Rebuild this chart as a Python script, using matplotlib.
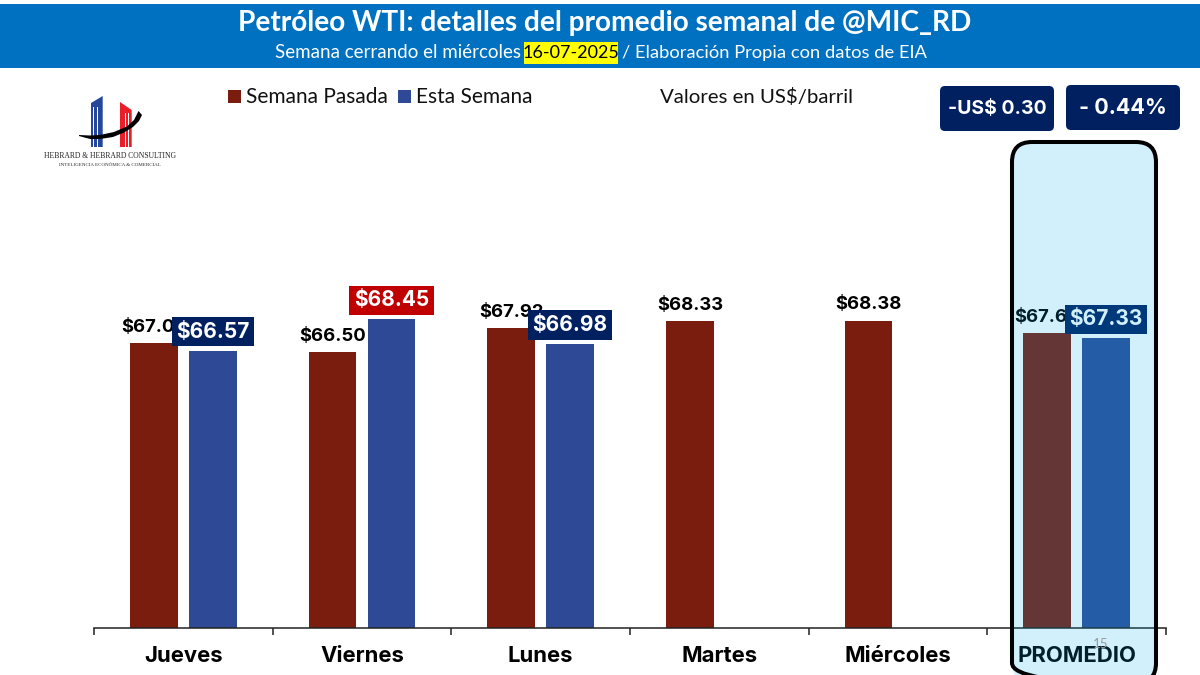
import matplotlib
matplotlib.use('Agg')
import matplotlib.pyplot as plt
from matplotlib.patches import FancyBboxPatch, Polygon, Rectangle
import numpy as np

# data
dias = ['Jueves', 'Viernes', 'Lunes', 'Martes', 'Miércoles', 'PROMEDIO']
semana_pasada = [67.02, 66.50, 67.92, 68.33, 68.38, 67.63]
esta_semana = [66.57, 68.45, 66.98, None, None, 67.33]
color_caja = ['#002060', '#C00000', '#002060', None, None, '#002060']

BROWN = '#7A1C0E'
BLUE = '#2E4A96'
W, H = 1200, 675

fig = plt.figure(figsize=(12, 6.75), dpi=100, facecolor='white')

# main chart, placed in pixels
left, right, base, top = 94, 1166, 628, 143
ax = fig.add_axes([left / W, 1 - base / H, (right - left) / W, (base - top) / H], zorder=1)
ax.patch.set_alpha(0)

x = np.arange(len(dias))
ancho = 0.268
sep = 0.165
ax.bar(x - sep, semana_pasada, ancho, color=BROWN)
for i, v in enumerate(esta_semana):
    if v is not None:
        ax.bar(i + sep, v, ancho, color=BLUE)

ax.set_xlim(-0.5, 5.5)
ax.set_ylim(50, 79)
for s in ['top', 'left', 'right']:
    ax.spines[s].set_visible(False)
ax.spines['bottom'].set_color('#222222')
ax.spines['bottom'].set_linewidth(1.1)
ax.set_yticks([])
ax.set_xticks(np.arange(-0.5, 6, 1))
ax.set_xticklabels([])
ax.tick_params(axis='x', length=5, width=1.1, color='#222222')

for i, d in enumerate(dias):
    ax.annotate(d, (i, 50), xytext=(0, -28), textcoords='offset pixels', ha='center', va='center',
                fontsize=15.9, fontweight='bold', family='Inter', color='black')

for i, v in enumerate(semana_pasada):
    ax.annotate(f'${v:.2f}', (i - sep, v), xytext=(0, 16), textcoords='offset pixels', ha='center', va='center',
                fontsize=13.3, fontweight='bold', family='Inter', color='black', zorder=4)
for i, v in enumerate(esta_semana):
    if v is not None:
        ax.annotate(f'${v:.2f}', (i + sep, v), xytext=(0, 19), textcoords='offset pixels', ha='center', va='center',
                    fontsize=15, fontweight='bold', family='Inter', color='white', zorder=5,
                    bbox=dict(boxstyle='square,pad=0.22', fc=color_caja[i], ec='none'))

# everything else on a pixel overlay
ov = fig.add_axes([0, 0, 1, 1], zorder=2)
ov.set_xlim(0, W)
ov.set_ylim(H, 0)
ov.axis('off')
ov.patch.set_alpha(0)

# header
ov.add_patch(Rectangle((0, 4), W, 64, fc='#0070C0', ec='none'))
ov.text(605, 23, 'Petróleo WTI: detalles del promedio semanal de @MIC_RD', ha='center', va='center',
        family='Lato', fontweight='bold', fontsize=20.2, color='white')
ov.add_patch(Rectangle((524, 42), 94, 22, fc='#FFFF00', ec='none'))
ov.text(521, 53, 'Semana cerrando el miércoles', ha='right', va='center', family='Lato', fontsize=13.5, color='white')
ov.text(571, 53, '16-07-2025', ha='center', va='center', family='Lato', fontsize=13, color='black')
ov.text(622, 53, '/ Elaboración Propia con datos de EIA', ha='left', va='center', family='Lato', fontsize=13.2, color='white')

# legend
ov.add_patch(Rectangle((228, 90), 13, 13, fc=BROWN, ec='none'))
ov.text(246, 97, 'Semana Pasada', va='center', family='Lato', fontsize=15, color='#111111')
ov.add_patch(Rectangle((398, 90), 13, 13, fc=BLUE, ec='none'))
ov.text(416, 97, 'Esta Semana', va='center', family='Lato', fontsize=15, color='#111111')
ov.text(660, 97, 'Valores en US$/barril', va='center', family='Lato', fontsize=14.7, color='#111111')

# top right boxes
for bx, by, txt in [(940, 86, '-US$ 0.30'), (1066, 85, '- 0.44%')]:
    ov.add_patch(FancyBboxPatch((bx + 5, by + 5), 104, 35, boxstyle='round,pad=5,rounding_size=5',
                                fc='#002060', ec='none'))
    ov.text(bx + 57, by + 23, txt, ha='center', va='center', fontweight='bold', family='Inter',
            fontsize=14 if bx == 940 else 15.5, color='white')

# highlight around PROMEDIO
caja = dict(boxstyle='round,pad=0,rounding_size=20')
ov.add_patch(FancyBboxPatch((1012, 142), 144, 541, fc='#00B0F0', alpha=0.18, ec='none', **caja))
ov.add_patch(FancyBboxPatch((1012, 142), 144, 541, fc='none', ec='black', lw=2.9, **caja))
ov.text(1101, 644, '15', ha='center', va='center', fontsize=9.5, color='#999999', family='Lato')

# logo
ov.add_patch(Polygon([(91, 103), (102.7, 96), (102.7, 147), (91, 147)], fc='#24479B', ec='none'))
ov.add_patch(Polygon([(120, 102), (131.7, 110), (131.7, 147), (120, 147)], fc='#E81F28', ec='none'))
for lx in [92.8, 96.8]:
    ov.add_patch(Rectangle((lx, 107), 1, 40, fc='white', ec='none'))
for lx in [125, 128.3]:
    ov.add_patch(Rectangle((lx, 113), 1, 34, fc='white', ec='none'))
ov.add_patch(Polygon([(79, 135), (90, 135.5), (100, 135), (114, 132), (127, 126.5), (134, 120), (138.5, 111),
                      (142, 115), (139, 121), (133, 127), (124, 132.5), (113, 137), (100, 139), (90, 139), (79, 136)],
                     fc='black', ec='none'))
ov.text(109.5, 155.5, 'HEBRARD & HEBRARD CONSULTING', ha='center', va='center', family='Liberation Serif',
        fontsize=5.5, color='#222222')
ov.text(109.5, 164.5, 'INTELIGENCIA ECONÓMICA & COMERCIAL', ha='center', va='center', family='Liberation Serif',
        fontsize=3.6, color='#222222')

fig.savefig('out.png', dpi=100)
